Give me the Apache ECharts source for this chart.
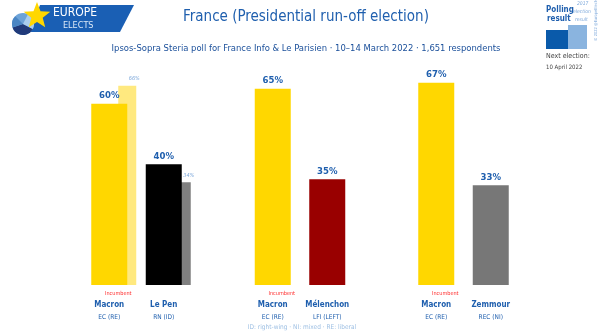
<!DOCTYPE html>
<html><head><meta charset="utf-8">
<script src="https://cdn.jsdelivr.net/npm/echarts@6/dist/echarts.min.js"></script>
<style>html,body{margin:0;padding:0;background:#fff}#c{width:600px;height:334px}</style>
</head><body><div id="c"></div>
<script>
var categories = ['Macron', 'Le Pen', '', 'Macron', 'Mélenchon', '', 'Macron', 'Zemmour'];
var parties = ['EC (RE)', 'RN (ID)', '', 'EC (RE)', 'LFI (LEFT)', '', 'EC (RE)', 'REC (NI)'];
var incumbent = [true, false, false, true, false, false, true, false];
var pollValues = [60, 40, null, 65, 35, null, 67, 33];
var result2017 = [66, 34, null, null, null, null, null, null];
var pollColors = ['#FFD700', '#000000', '#fff', '#FFD700', '#990000', '#fff', '#FFD700', '#777777'];
var colors2017 = ['#FFE97F', '#808080', '#fff', '#fff', '#fff', '#fff', '#fff', '#fff'];

var FONT = 'DejaVu Sans Condensed';
var BLUE = '#1f5fae';

var chart = echarts.init(document.getElementById('c'), null, {renderer: 'canvas'});

function starPoints(cx, cy, R, r) {
  var pts = [];
  for (var i = 0; i < 10; i++) {
    var a = -Math.PI / 2 + i * Math.PI / 5;
    var rad = i % 2 === 0 ? R : r;
    pts.push([cx + rad * Math.cos(a), cy + rad * Math.sin(a)]);
  }
  return pts;
}

var option = {
  animation: false,
  textStyle: {fontFamily: FONT},
  title: [
    {text: 'France (Presidential run-off election)', left: 301, top: 5, textAlign: 'center',
     textStyle: {fontFamily: FONT, fontSize: 15, fontWeight: 'normal', color: BLUE}},
    {text: 'Ipsos-Sopra Steria poll for France Info & Le Parisien · 10–14 March 2022 · 1,651 respondents',
     left: 301, top: 39, textAlign: 'center',
     textStyle: {fontFamily: FONT, fontSize: 9.4, fontWeight: 'normal', color: '#1a4f9a'}}
  ],
  grid: {left: 82, width: 436, top: 73.6, bottom: 49},
  xAxis: [
    {type: 'category', data: categories, axisLine: {show: false}, axisTick: {show: false},
     axisLabel: {
       interval: 0, margin: 4,
       formatter: function (v, i) {
         var inc = incumbent[i] ? '{inc|Incumbent}' : '{inc| }';
         return inc + '\n{name|' + (v || ' ') + '}\n{party|' + (parties[i] || ' ') + '}';
       },
       rich: {
         inc: {fontFamily: FONT, fontSize: 5.5, color: '#ff2b2b', lineHeight: 10, padding: [0, 0, 0, 18]},
         name: {fontFamily: FONT, fontSize: 8, fontWeight: 'bold', color: BLUE, lineHeight: 12},
         party: {fontFamily: FONT, fontSize: 6.5, color: BLUE, lineHeight: 12}
       }
     }},
    {type: 'category', data: categories, show: false}
  ],
  yAxis: {type: 'value', min: 0, max: 70, show: false, splitLine: {show: false}},
  series: [
    {type: 'bar', xAxisIndex: 1, barWidth: 36, barGap: '0%', data: [], silent: true},
    {type: 'bar', xAxisIndex: 1, barWidth: 18, barGap: '0%', z: 1,
     data: result2017.map(function (v, i) {
       return {value: v == null ? '-' : v, itemStyle: {color: colors2017[i]}};
     }),
     label: {show: true, position: 'top', distance: 4, offset: [7, 0], fontFamily: FONT, fontSize: 5.5,
             fontStyle: 'italic', color: '#7ea9db', formatter: function (p) { return p.value + '%'; }}},
    {type: 'bar', xAxisIndex: 0, barWidth: 36, z: 3,
     data: pollValues.map(function (v, i) {
       return {value: v == null ? '-' : v, itemStyle: {color: pollColors[i]}};
     }),
     label: {show: true, position: 'top', distance: 3, fontFamily: FONT, fontSize: 9.5, fontWeight: 'bold',
             color: BLUE, formatter: function (p) { return p.value + '%'; }}}
  ],
  graphic: [
    // logo
    {type: 'polygon', shape: {points: [[40, 5], [134, 5], [120, 32], [30, 32]]}, style: {fill: '#1a5fb4'}},
    {type: 'sector', shape: {cx: 23, cy: 24, r: 11, startAngle: 0, endAngle: Math.PI * 2}, style: {fill: '#6da3d8'}},
    {type: 'sector', shape: {cx: 23, cy: 24, r: 11, startAngle: Math.PI * 0.15, endAngle: Math.PI * 0.9}, style: {fill: '#203a7a'}},
    {type: 'sector', shape: {cx: 23, cy: 24, r: 11, startAngle: Math.PI * 0.9, endAngle: Math.PI * 1.25}, style: {fill: '#4a86c4'}},
    {type: 'sector', shape: {cx: 23, cy: 24, r: 11, startAngle: -Math.PI * 0.35, endAngle: Math.PI * 0.15}, style: {fill: '#a9cdee'}},
    {type: 'polygon', shape: {points: starPoints(37, 16, 14, 6)}, style: {fill: '#FFD700'}},
    {type: 'text', x: 53, y: 7, style: {text: 'EUROPE', font: '12px ' + FONT, fill: '#fff'}},
    {type: 'text', x: 63, y: 21, style: {text: 'ELECTS', font: '9px ' + FONT, fill: '#dbe8f7'}},
    // legend top-right
    {type: 'text', x: 546, y: 6, style: {text: 'Polling', font: 'bold 8px ' + FONT, fill: BLUE}},
    {type: 'text', x: 547, y: 15, style: {text: 'result', font: 'bold 8px ' + FONT, fill: BLUE}},
    {type: 'text', x: 577, y: 1, style: {text: '2017', font: 'italic 5px ' + FONT, fill: '#7ea9db'}},
    {type: 'text', x: 573, y: 9, style: {text: 'election', font: 'italic 5px ' + FONT, fill: '#7ea9db'}},
    {type: 'text', x: 575, y: 17, style: {text: 'result', font: 'italic 5px ' + FONT, fill: '#7ea9db'}},
    {type: 'rect', shape: {x: 546, y: 30, width: 22, height: 19}, style: {fill: '#0a5aaa'}},
    {type: 'rect', shape: {x: 568, y: 25, width: 19, height: 24}, style: {fill: '#8ab4df'}},
    {type: 'text', x: 546, y: 53, style: {text: 'Next election:', font: '7px ' + FONT, fill: '#444'}},
    {type: 'text', x: 546, y: 64, style: {text: '10 April 2022', font: '6px ' + FONT, fill: '#444'}},
    {type: 'text', x: 594, y: 41, rotation: Math.PI / 2,
     style: {text: '© 2022 @EuropeElects', font: '4px ' + FONT, fill: '#7ea9db'}},
    // footnote
    {type: 'text', x: 302, y: 324, style: {text: 'ID: right-wing · NI: mixed · RE: liberal', font: '6.5px ' + FONT,
      fill: '#9dbfe3', textAlign: 'center'}}
  ]
};
chart.setOption(option);
</script></body></html>
